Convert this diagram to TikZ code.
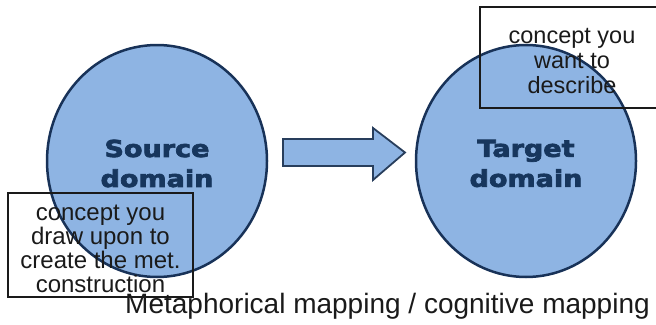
\documentclass[tikz,border=0pt]{standalone}
\usepackage{fontspec}
\setmainfont{Liberation Sans}
\newfontfamily\domfont[FakeStretch=1.16, FakeBold=3]{DejaVu Sans Bold}
\usetikzlibrary{shapes.geometric}

\definecolor{circfill}{RGB}{142,180,227}
\definecolor{circedge}{RGB}{24,50,88}
\definecolor{domtext}{RGB}{23,54,93}
\definecolor{arrowedge}{RGB}{40,62,92}
\definecolor{inktext}{RGB}{26,26,26}

\begin{document}
\begin{tikzpicture}[x=1pt,y=-1pt,
  domainshape/.style={ellipse, draw=circedge, line width=2.5pt, fill=circfill,
    minimum width=220pt, minimum height=232pt, inner sep=0pt},
  domlabel/.style={font=\domfont\fontsize{23.3}{30}\selectfont,
    text=domtext, align=center, inner sep=0pt},
  notebox/.style={draw=inktext, line width=1.3pt, align=center, inner sep=0pt,
    text=inktext},
  mapshape/.style={draw=arrowedge, line width=1.8pt, fill=circfill, line join=miter}
]
\useasboundingbox (0,0) rectangle (656,324);

% the two domains
\node[domainshape] (src) at (157,161) {};
\node[domainshape] (tgt) at (526,161) {};
\node[domlabel] (srclabel) at (157,163.5) {Source\\domain};
\node[domlabel] (tgtlabel) at (526,163.5) {Target\\domain};

% block arrow for the mapping
\draw[mapshape] (283,139) -- (373,139) -- (373,128) -- (405,152.5)
  -- (373,180) -- (373,166) -- (283,166) -- cycle;

% explanatory notes
\node[notebox, minimum width=185pt, minimum height=104pt] (srcnote) at (100.5,245) {};
\node[font=\fontsize{24}{24}\selectfont, text=inktext, align=center, inner sep=0pt]
  (srcnotetext) at (100.5,249)
  {concept you\\draw upon to\\create the met.\\construction};
\node[notebox, minimum width=184pt, minimum height=101pt] (tgtnote) at (572,57.5) {};
\node[font=\fontsize{23.5}{25}\selectfont, text=inktext, align=center, inner sep=0pt]
  (tgtnotetext) at (572,61.5)
  {concept you\\want to\\describe};

% caption
\node[font=\fontsize{28}{30}\selectfont, text=inktext, anchor=base, inner sep=0pt]
  (caption) at (387.5,313) {Metaphorical mapping / cognitive mapping};
\end{tikzpicture}
\end{document}
